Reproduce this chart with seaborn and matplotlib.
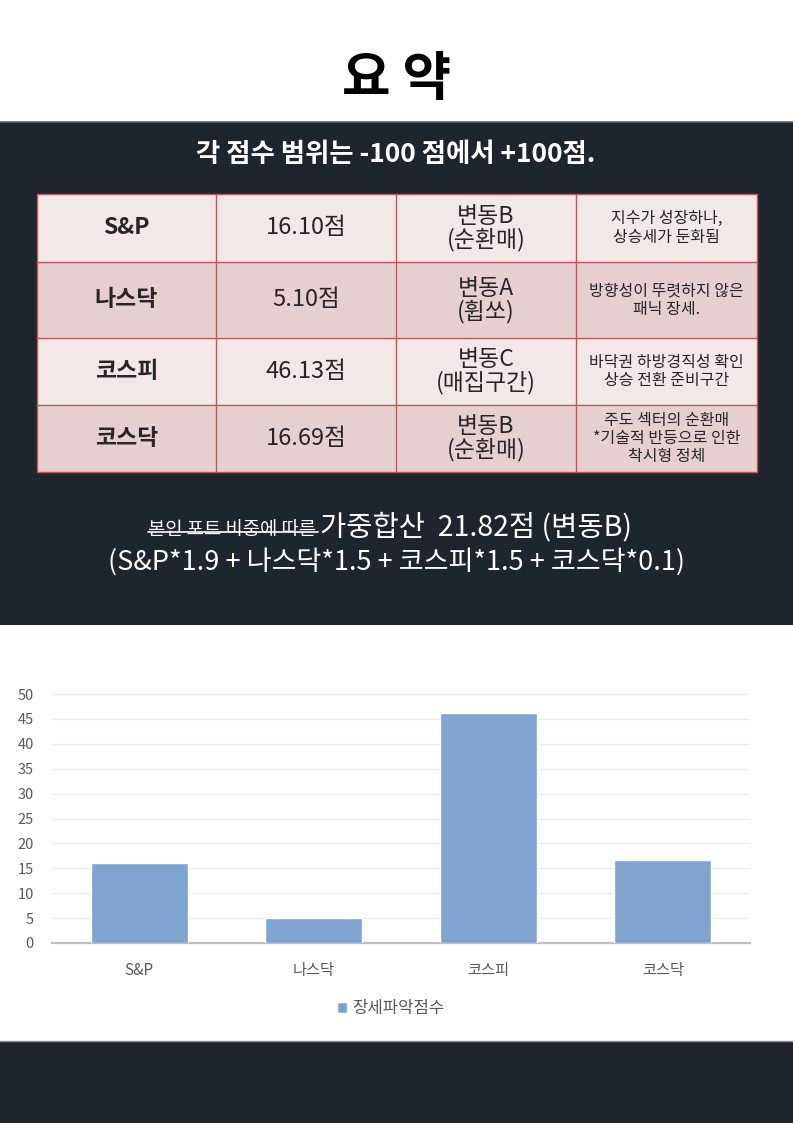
import matplotlib
matplotlib.use("Agg")
import matplotlib.pyplot as plt
import seaborn as sns
import pandas as pd
from matplotlib.patches import Rectangle

# ---------------- data ----------------
categories = ["S&P", "나스닥", "코스피", "코스닥"]
scores = [16.10, 5.10, 46.13, 16.69]
score_labels = ["16.10점", "5.10점", "46.13점", "16.69점"]
phase_labels = ["변동B\n(순환매)", "변동A\n(휩쏘)", "변동C\n(매집구간)", "변동B\n(순환매)"]
comments = ["지수가 성장하나,\n상승세가 둔화됨",
            "방향성이 뚜렷하지 않은\n패닉 장세.",
            "바닥권 하방경직성 확인\n상승 전환 준비구간",
            "주도 섹터의 순환매\n*기술적 반등으로 인한\n착시형 정체"]
series_name = "장세파악점수"
y_ticks = [0, 5, 10, 15, 20, 25, 30, 35, 40, 45, 50]

title = "요 약"
subtitle = "각 점수 범위는 -100 점에서 +100점."
struck_text = "본인 포트 비중에 따른"
sum_text = "가중합산  21.82점 (변동B)"
formula_text = "(S&P*1.9 + 나스닥*1.5 + 코스피*1.5 + 코스닥*0.1)"

# ---------------- style ----------------
sns.set_theme(style="white")
FONT = ["Noto Sans CJK KR", "DejaVu Sans"]
plt.rcParams["font.family"] = FONT

W, H = 793, 1123
fig = plt.figure(figsize=(W / 100, H / 100), dpi=100)
fig.patch.set_facecolor("white")

# background canvas in pixel coordinates
bg = fig.add_axes([0, 0, 1, 1], zorder=0)
bg.set_xlim(0, W)
bg.set_ylim(H, 0)
bg.axis("off")

DARK = "#1f252d"
bg.add_patch(Rectangle((0, 122), W, 503, color=DARK, lw=0))
bg.plot([0, W], [122, 122], color="#5a5f66", lw=1.2)
bg.add_patch(Rectangle((0, 1041), W, 82, color=DARK, lw=0))
bg.plot([0, W], [1041, 1041], color="#8a8f96", lw=1.0)

bg.text(396, 80, title, ha="center", va="center", fontsize=38,
        fontweight="black", color="black")
bg.text(396, 154, subtitle, ha="center", va="center", fontsize=19,
        fontweight="bold", color="white")

# table
col_x = [37, 216, 396, 576, 757]
row_y = [194, 262, 338, 405, 472]
row_colors = ["#f3e7e8", "#e7cfd1"]
border = "#b95a56"
txt = "#262626"
for i in range(4):
    y0, y1 = row_y[i], row_y[i + 1]
    bg.add_patch(Rectangle((col_x[0], y0), col_x[-1] - col_x[0], y1 - y0,
                           facecolor=row_colors[i % 2], edgecolor="none", zorder=1))
    yc = (y0 + y1) / 2
    cx = [(col_x[j] + col_x[j + 1]) / 2 for j in range(4)]
    bg.text(cx[0], yc, categories[i], ha="center", va="center", fontsize=16.5,
            fontweight="bold", color=txt, zorder=3)
    bg.text(cx[1], yc, score_labels[i], ha="center", va="center", fontsize=17,
            color=txt, zorder=3)
    bg.text(cx[2], yc, phase_labels[i], ha="center", va="center", fontsize=16.5,
            color=txt, linespacing=1.0, zorder=3)
    bg.text(cx[3], yc, comments[i], ha="center", va="center", fontsize=11.5,
            color=txt, linespacing=1.1, zorder=3)
for x in col_x:
    bg.plot([x, x], [row_y[0], row_y[-1]], color=border, lw=1.0, zorder=2)
for y in row_y:
    bg.plot([col_x[0], col_x[-1]], [y, y], color=border, lw=1.0, zorder=2)

# weighted sum lines
split_x = 318
bg.text(split_x - 2, 530, struck_text, ha="right", va="center", fontsize=13.5,
        color="white")
bg.text(split_x + 2, 527, sum_text, ha="left", va="center", fontsize=20.5,
        color="white")
bg.plot([148, split_x], [532, 532], color="white", lw=1.2)
bg.text(397, 562, formula_text, ha="center", va="center", fontsize=19.5,
        color="white")

# ---------------- bar chart ----------------
left, right = 52, 750
top, bottom = 694, 943
ax = fig.add_axes([left / W, (H - bottom) / H, (right - left) / W, (bottom - top) / H],
                  zorder=2)
ax.set_facecolor("white")
df = pd.DataFrame({"index": categories, "score": scores})
sns.barplot(data=df, x="index", y="score", color="#7fa4cf", saturation=1,
            width=0.555, ax=ax, label=series_name, zorder=3)
ax.set_ylim(0, 50)
ax.set_yticks(y_ticks)
ax.set_xlim(-0.5, 3.5)
ax.set_xlabel("")
ax.set_ylabel("")
ax.grid(axis="y", color="#ececec", lw=0.9, zorder=0)
ax.set_axisbelow(True)
for s in ["top", "right", "left"]:
    ax.spines[s].set_visible(False)
ax.spines["bottom"].set_color("#bfbfbf")
ax.spines["bottom"].set_linewidth(1.6)
ax.tick_params(axis="y", length=0, pad=13, labelsize=10.5, labelcolor="#595959")
ax.tick_params(axis="x", length=0, pad=14, labelsize=11, labelcolor="#595959")
ax.legend(loc="upper center", bbox_to_anchor=(0.485, -0.17), frameon=False,
          fontsize=12, handlelength=0.6, handleheight=0.6, handletextpad=0.3,
          labelcolor="#595959")

fig.savefig("out.png", dpi=100, facecolor="white")
